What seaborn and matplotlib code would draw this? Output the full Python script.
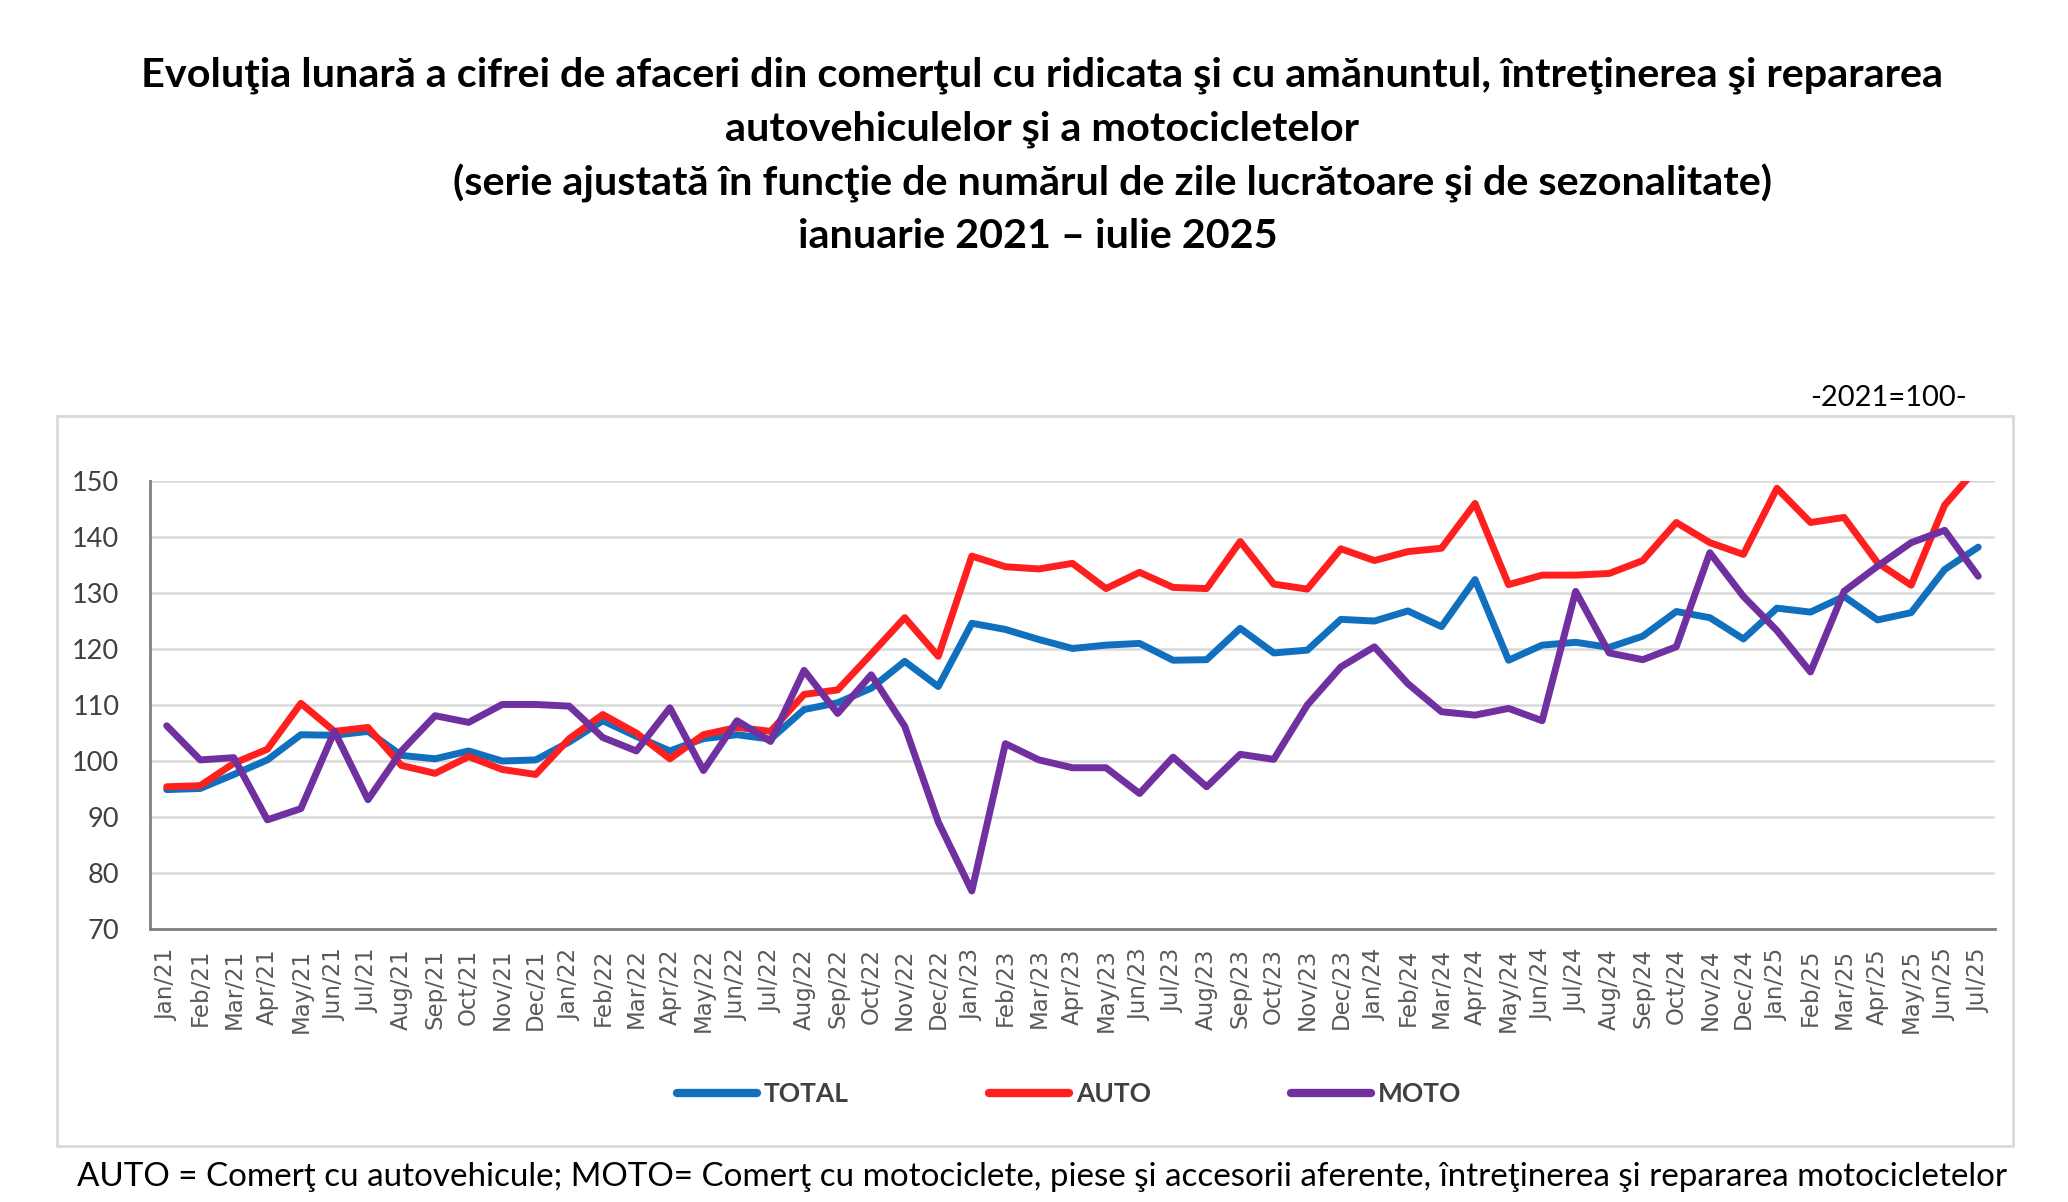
import pandas as pd
import numpy as np
import seaborn as sns
import matplotlib.pyplot as plt
from matplotlib.lines import Line2D
from matplotlib.patches import Rectangle

# Luni (etichete axa X)
months = ["Jan/21", "Feb/21", "Mar/21", "Apr/21", "May/21", "Jun/21", "Jul/21", "Aug/21", "Sep/21", "Oct/21", "Nov/21", "Dec/21",
          "Jan/22", "Feb/22", "Mar/22", "Apr/22", "May/22", "Jun/22", "Jul/22", "Aug/22", "Sep/22", "Oct/22", "Nov/22", "Dec/22",
          "Jan/23", "Feb/23", "Mar/23", "Apr/23", "May/23", "Jun/23", "Jul/23", "Aug/23", "Sep/23", "Oct/23", "Nov/23", "Dec/23",
          "Jan/24", "Feb/24", "Mar/24", "Apr/24", "May/24", "Jun/24", "Jul/24", "Aug/24", "Sep/24", "Oct/24", "Nov/24", "Dec/24",
          "Jan/25", "Feb/25", "Mar/25", "Apr/25", "May/25", "Jun/25", "Jul/25"]

total = [94.9, 95.1, 97.6, 100.2, 104.7, 104.6, 105.3, 101.0, 100.4, 101.8, 100.0, 100.2,
         103.4, 107.2, 104.4, 101.8, 104.0, 104.7, 103.9, 109.2, 110.4, 113.0, 117.8, 113.3,
         124.6, 123.5, 121.7, 120.1, 120.7, 121.0, 118.0, 118.1, 123.7, 119.3, 119.8, 125.3,
         125.0, 126.8, 124.0, 132.4, 118.0, 120.7, 121.2, 120.3, 122.3, 126.7, 125.6, 121.8,
         127.3, 126.6, 129.4, 125.2, 126.5, 134.2, 138.2]

auto = [95.4, 95.6, 99.6, 102.1, 110.3, 105.3, 106.0, 99.2, 97.8, 100.8, 98.5, 97.6,
        104.0, 108.3, 105.0, 100.4, 104.7, 106.0, 105.3, 111.9, 112.7, 119.1, 125.6, 118.7,
        136.6, 134.7, 134.3, 135.3, 130.8, 133.7, 131.0, 130.8, 139.2, 131.6, 130.7, 137.9,
        135.8, 137.4, 138.0, 146.0, 131.5, 133.2, 133.2, 133.5, 135.8, 142.6, 139.0, 136.9,
        148.7, 142.6, 143.5, 135.4, 131.4, 145.7, 152.6]

moto = [106.3, 100.2, 100.6, 89.5, 91.5, 105.3, 93.1, 101.8, 108.1, 106.9, 110.1, 110.1,
        109.8, 104.2, 101.8, 109.5, 98.3, 107.2, 103.5, 116.2, 108.5, 115.4, 106.2, 89.1,
        76.8, 103.1, 100.2, 98.8, 98.8, 94.2, 100.7, 95.4, 101.2, 100.3, 110.0, 116.8,
        120.4, 113.8, 108.8, 108.2, 109.4, 107.2, 130.3, 119.3, 118.1, 120.4, 137.2, 129.4,
        123.3, 115.9, 130.3, 134.8, 139.0, 141.2, 133.0]

series = ["TOTAL", "AUTO", "MOTO"]
colors = {"TOTAL": "#1170BE", "AUTO": "#FF1F1F", "MOTO": "#7030A0"}

# date in format lung pentru seaborn
df = pd.DataFrame({"idx": np.arange(len(months)), "TOTAL": total, "AUTO": auto, "MOTO": moto})
long_df = df.melt(id_vars="idx", value_vars=series, var_name="serie", value_name="val")

sns.set_style("white")
plt.rcParams['font.family'] = ['Lato', 'DejaVu Sans']

fig = plt.figure(figsize=(20.68, 12.02), dpi=100)
ax = fig.add_axes([0.0725, 0.2271, 0.8922, 0.3727])

sns.lineplot(data=long_df, x="idx", y="val", hue="serie", hue_order=series, palette=colors,
             linewidth=5, legend=False, ax=ax, solid_joinstyle='round', solid_capstyle='round')

ax.set_xlim(-0.5, len(months) - 0.5)
ax.set_ylim(70, 150)
ax.set_yticks(range(70, 151, 10))
ax.set_xticks(np.arange(len(months)))
ax.set_xticklabels(months, rotation=90, fontsize=16.5, color="#595959", family=['DejaVu Sans'])
ax.set_xticks(np.arange(-0.5, len(months), 1), minor=True)
ax.tick_params(axis='x', which='major', length=0, pad=14)
ax.tick_params(axis='x', which='minor', length=8, width=1.5, color="#7F7F7F", direction='out')
ax.tick_params(axis='y', length=0, pad=22, labelsize=19.5, labelcolor="#404040")
ax.set_xlabel("")
ax.set_ylabel("")

ax.yaxis.grid(True, color="#D9D9D9", linewidth=1.8)
ax.set_axisbelow(True)
for s in ["top", "right"]:
    ax.spines[s].set_visible(False)
for s in ["left", "bottom"]:
    ax.spines[s].set_color("#7F7F7F")
    ax.spines[s].set_linewidth(2)

# chenar exterior
fig.patches.append(Rectangle((0.0276, 0.0468), 0.946, 0.607, transform=fig.transFigure,
                             fill=False, edgecolor="#D9D9D9", linewidth=2))

# titluri
fig.text(0.504, 1 - 75 / 1202, "Evoluţia lunară a cifrei de afaceri din comerţul cu ridicata şi cu amănuntul, întreţinerea şi repararea",
         ha='center', va='center', fontsize=29.8, fontweight='bold', color='black')
fig.text(0.504, 1 - 129 / 1202, "autovehiculelor şi a motocicletelor",
         ha='center', va='center', fontsize=29.8, fontweight='bold', color='black')
fig.text(0.538, 1 - 183 / 1202, "(serie ajustată în funcţie de numărul de zile lucrătoare şi de sezonalitate)",
         ha='center', va='center', fontsize=29.8, fontweight='bold', color='black')
fig.text(0.502, 1 - 236 / 1202, "ianuarie 2021 – iulie 2025",
         ha='center', va='center', fontsize=29.8, fontweight='bold', color='black')

fig.text(0.9133, 1 - 398 / 1202, "-2021=100-", ha='center', va='center', fontsize=21, color='black')

handles = [Line2D([0], [0], color=colors[s], lw=6, solid_capstyle='round') for s in series]
leg = fig.legend(handles, series, loc='center', bbox_to_anchor=(0.517, 1 - 1094 / 1202), ncol=3,
                 frameon=False, handlelength=3.05, handletextpad=0.25, columnspacing=5.3,
                 prop={'size': 19, 'weight': 'bold'})
for t in leg.get_texts():
    t.set_color("#404040")

fig.text(0.504, 1 - 1177 / 1202,
         "AUTO = Comerţ cu autovehicule; MOTO= Comerţ cu motociclete, piese şi accesorii aferente, întreţinerea şi repararea motocicletelor",
         ha='center', va='center', fontsize=23.9, color='black')

fig.savefig("out.png", dpi=100)
